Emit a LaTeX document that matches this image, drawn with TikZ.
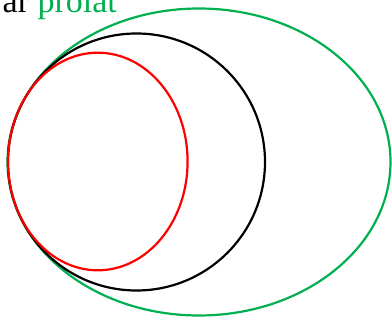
\documentclass[tikz,border=0pt]{standalone}
\usepackage{fontspec}
\setmainfont{Liberation Serif}
\definecolor{prolatgreen}{RGB}{0,176,80}

\begin{document}
\begin{tikzpicture}[x=1pt, y=-1pt, line width=2.2pt]
    \tikzset{
        outline/.style={draw, line width=2.2pt},
        caption/.style={inner sep=0pt, anchor=base east, font=\fontsize{34}{40}\selectfont}
    }
        \useasboundingbox (0,0) rectangle (392,320);

        \node[caption] (title) at (118,13) {ar \textcolor{prolatgreen}{prolat}};

        \draw[outline, prolatgreen] (199,162) ellipse [x radius=191.5, y radius=153.5];
        \draw[outline, black] (136.5,162) circle [radius=128.5];
        \draw[outline, red] (97.8,161.5) ellipse [x radius=89.8, y radius=108.8];

    \end{tikzpicture}
\end{document}
